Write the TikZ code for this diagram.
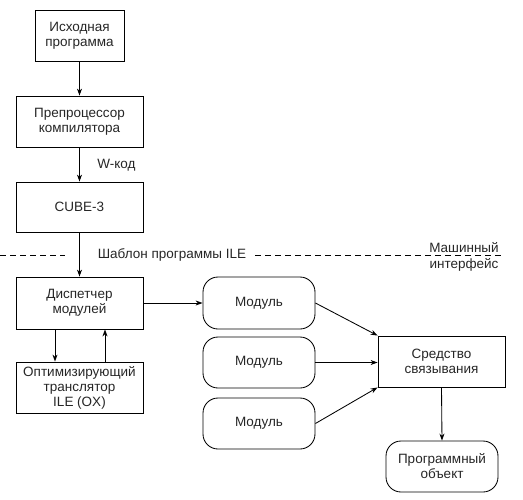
\documentclass[tikz,border=0pt]{standalone}
\usepackage{fontspec}
\setmainfont{Liberation Sans}
\usetikzlibrary{arrows.meta,calc}
\begin{document}
\begin{tikzpicture}[x=1pt,y=-1pt,
  font=\fontsize{13.5}{15}\selectfont,
  line width=0.85pt,
  txtcol/.style={text=black!85},
  blk/.style={draw, align=center, inner sep=2pt, txtcol},
  rnd/.style={blk, rounded corners=15pt},
  arr/.style={-{Stealth[length=7pt,width=5pt]}},
  dsh/.style={dash pattern=on 6pt off 4pt}
]
\useasboundingbox (0,0) rectangle (523,499);
\node[blk, minimum width=89pt, minimum height=51pt] (src) at (79.5,35.5) {Исходная\\программа};
\node[blk, minimum width=127pt, minimum height=51pt] (pre) at (79.5,121.5) {Препроцессор\\компилятора};
\node[blk, minimum width=127pt, minimum height=50pt] (cube) at (79.5,207) {CUBE-3};
\node[blk, minimum width=127pt, minimum height=52pt] (disp) at (79.5,303) {Диспетчер\\модулей};
\node[blk, minimum width=127pt, minimum height=51pt] (opt) at (79.5,387.5) {Оптимизирующий\\транслятор\\ILE (OX)};
\node[rnd, minimum width=112pt, minimum height=52pt] (m1) at (259,303) {Модуль};
\node[rnd, minimum width=112pt, minimum height=51pt] (m2) at (259,362.5) {Модуль};
\node[rnd, minimum width=112pt, minimum height=51pt] (m3) at (259,423.5) {Модуль};
\node[blk, minimum width=127pt, minimum height=51pt] (link) at (441.5,361.5) {Средство\\связывания};
\node[rnd, minimum width=112pt, minimum height=51pt] (obj) at (442,466.5) {Программный\\объект};

\node[txtcol, anchor=west, inner sep=0pt] (wcode) at (97,165) {W-код};
\node[txtcol, inner sep=0pt] (tmpl) at (172,255) {Шаблон программы ILE};
\node[txtcol, anchor=base, inner sep=0pt] (mach1) at (464,252.5) {Машинный};
\node[txtcol, anchor=base, inner sep=0pt] (mach2) at (464,268) {интерфейс};

\coordinate (d1) at (0,255);
\coordinate (d2) at (65,255);
\coordinate (d3) at (255,255);
\coordinate (d4) at (503,255);
\draw[dsh] (d1) -- (d2);
\draw[dsh] (d3) -- (d4);

\draw[arr] (src.south) -- (pre.north);
\draw[arr] (pre.south) -- (cube.north);
\draw[arr] (cube.south) -- (disp.north);
\draw[arr] (disp.east) -- (m1.west);
\draw[arr] ($(disp.south)+(-24.5,0)$) -- ($(opt.north)+(-24.5,0)$);
\draw[arr] ($(opt.north)+(25.5,0)$) -- ($(disp.south)+(25.5,0)$);
\draw[arr] (m1.east) -- (link.north west);
\draw[arr] (m2.east) -- (m2.east -| link.west);
\draw[arr] (m3.east) -- (link.south west);
\draw[arr] (link.south) -- (obj.north);
\end{tikzpicture}
\end{document}
